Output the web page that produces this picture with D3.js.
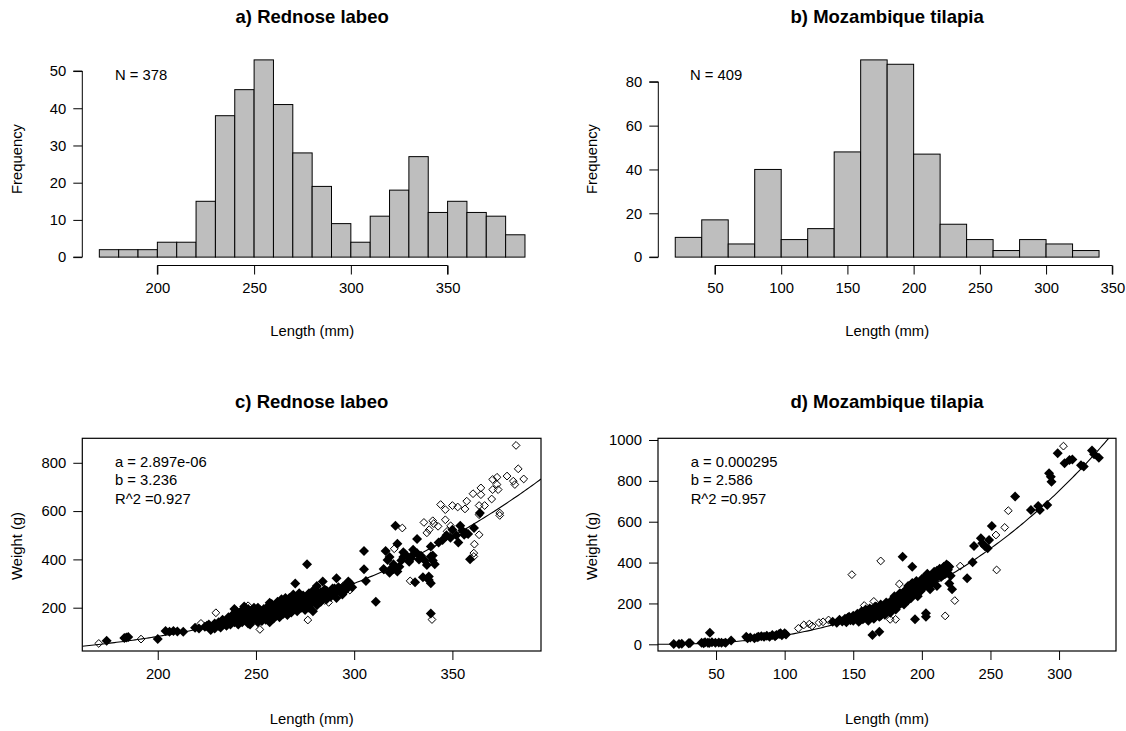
<!DOCTYPE html>
<html><head><meta charset="utf-8">
<script src="https://cdn.jsdelivr.net/npm/d3@7"></script>
<style>
html,body{margin:0;padding:0;background:#fff;}
svg{display:block;font-family:"Liberation Sans",Arial,sans-serif;}
</style></head><body>
<svg id="chart" width="1126" height="731"></svg>
<script>
// ---------- DATA ----------
const titles = ["a) Rednose labeo", "b) Mozambique tilapia", "c) Rednose labeo", "d) Mozambique tilapia"];
const labeoBinEdges = [170,180,190,200,210,220,230,240,250,260,270,280,290,300,310,320,330,340,350,360,370,380,390];
const labeoCounts = [2,2,2,4,4,15,38,45,53,41,28,19,9,4,11,18,27,12,15,12,11,6];
const tilapiaBinEdges = [20,40,60,80,100,120,140,160,180,200,220,240,260,280,300,320,340];
const tilapiaCounts = [9,17,6,40,8,13,48,90,88,47,15,8,3,8,6,3];
const sampleSizes = [378, 409];
const labeoHistXTicks = [200,250,300,350];
const labeoHistYTicks = [0,10,20,30,40,50];
const tilapiaHistXTicks = [50,100,150,200,250,300,350];
const tilapiaHistYTicks = [0,20,40,60,80];
const labeoXTicks = [200,250,300,350];
const labeoYTicks = [200,400,600,800];
const tilapiaXTicks = [50,100,150,200,250,300];
const tilapiaYTicks = [0,200,400,600,800,1000];
const fitA = [2.897e-06, 0.000295];
const fitB = [3.236, 2.586];
const fitR2 = [0.927, 0.957];
const fitLabels = [["a = 2.897e-06","b = 3.236","R^2 =0.927"],["a = 0.000295","b = 2.586","R^2 =0.957"]];

// length (mm), weight (g) — filled diamonds
const labeoFilled = [
[174,63],[184,77],[185,79],[183,75],[200,70],[204,103],[206,100],[208,104],[210,101],[213,100],[219,117],[221,114],[224,121],[225,125],[227,108],[229,114],[226,130],[228,122],
[230,128],[231,140],[232,118],[233,150],[234,135],[235,125],[236,160],[236,142],[237,130],[238,170],[238,152],[239,140],[240,185],[240,160],[240,145],[241,130],[242,175],[242,155],[243,190],[243,140],[244,165],[245,150],[245,180],[246,135],[246,195],[247,160],[247,175],[248,145],[248,190],[249,170],[249,155],[250,180],[250,165],[251,140],[251,200],[252,175],[252,158],[253,185],[253,145],[254,195],[254,168],[255,150],[255,178],[256,205],[256,162],[257,185],[257,140],[258,170],[258,215],[259,190],[259,155],[260,200],[260,175],[261,225],[261,185],[262,160],[262,210],[263,195],[263,235],[264,175],[264,215],[265,190],[265,225],[266,205],[266,170],[267,240],[267,195],[268,215],[268,180],[269,230],[269,255],[270,200],[270,220],[270,300],[271,245],[271,185],[272,215],[272,260],[273,230],[273,200],[274,250],[274,215],[275,190],[275,235],[276,380],[276,225],[277,200],[277,260],[278,245],[278,215],[279,185],[279,270],[280,230],[280,255],[281,210],[281,290],[282,245],[283,225],[283,265],[284,308],[285,250],[285,275],[286,235],[287,260],[288,245],[289,280],[290,260],[291,322],[291,240],[292,285],[293,270],[294,255],[295,290],[296,275],[297,308],[298,300],[299,285],
[233,128],[235,145],[237,155],[239,165],[241,150],[243,158],[244,185],[246,170],[248,160],[250,150],[252,190],[254,180],[256,175],[258,190],[260,165],[262,185],[264,200],[266,220],[268,200],[270,240],[272,230],[274,230],[276,245],[278,230],[280,270],[282,260],[284,240],[286,270],[288,265],[290,280],[239,195],[244,205],[249,200],[257,220],[265,240],[247,130],[253,160],[261,205],[229,135],[231,125],
[305,435],[305,359],[306,311],[311,225],[315,360],[316,435],[317,398],[318,410],[318,345],[319,363],[320,380],[320,360],[321,539],[322,465],[322,350],[323,370],[324,395],[325,410],[325,430],[326,420],[327,412],[328,390],[329,405],[330,420],[330,440],[331,305],[332,484],[332,425],[333,400],[334,415],[335,326],[336,395],[337,377],[338,315],[338,329],[339,301],[339,176],[339,453],[339,412],[340,416],[340,395],[341,380],[343,470],[345,480],[347,500],[349,490],[350,523],[352,500],[353,470],[354,539],[355,520],[356,502],[357,509],[358,505],[359,401],[361,530],[364,592]
];
// open diamonds
const labeoOpen = [
[170,52],[191.5,70],[229.6,179],[222,135],[246,208],[252,110],[262,195],[276.4,149],[285,230],[287,222],[294.5,291],[297.8,273],[293,280],[315.1,356],[320.4,444],[324.5,530],[328.5,311],[335.5,553],[338.2,523],[339.6,151],[340.5,548],[342.7,537],[344,627],[346.4,564],[346.4,606],[347.3,516],[346.9,495],[349.1,539],[350,623],[352.7,617],[356.4,609],[357.3,641],[360.5,672],[360.9,426],[360.9,412],[361.2,463],[363.6,502],[363.6,585],[363.6,623],[364.5,696],[364.5,668],[366.4,623],[370,650],[370.5,689],[370.5,731],[372.7,740],[372.7,710],[373.3,689],[374.1,592],[374.1,582],[377.8,745],[381,724],[381.8,710],[382.4,872],[383.5,775],[386.3,733],[340,560],[337,510]
];
const tilapiaFilled = [
[19.2,2],[23,2],[25,3],[30,5],[31,6],[39.5,8],[41,5],[42,10],[44,8],[45,6],[45.5,57],[47,10],[49.5,8],[52,9],[54,7],[57,8],[61,18],[72,37],[73,29],[75,33],[78,29],[80,35],[81,37],[83,40],[85,37],[87,42],[89,37],[91,45],[93,40],[94,46],[96,50],[97,54],[98,44],[100,54],[101,48],
[135,110],[138,105],[140,120],[142,112],[144,125],[145,108],[146,130],[148,118],[150,140],[150,115],[152,128],[153,150],[154,110],[155,135],[156,160],[157,122],[158,145],[159,170],[160,130],[160,155],[161,115],[162,175],[163,140],[164,46],[164,160],[165,125],[166,185],[167,150],[168,170],[169,62],[169,135],[170,195],[171,160],[172,180],[173,145],[174,205],[175,170],[176,190],[177,155],[178,215],[179,180],[180,200],[180,235],[181,170],[182,220],[183,190],[184,250],[185,210],[186,429],[186,230],[187,195],[188,265],[189,240],[190,215],[190,285],[191,255],[192,225],[193,380],[193,300],[194,245],[195,122],[195,270],[196,310],[197,235],[198,290],[199,260],[200,320],[200,300],[201,275],[202,330],[203,152],[203,135],[203,290],[204,345],[205,310],[206,270],[207,335],[208,300],[209,355],[210,320],[211,285],[212,345],[213,370],[214,330],[215,360],[216,380],[217,345],[218,390],[219,365],[220,298],[220,380],[221,335],[222,270],
[147,135],[151,125],[155,118],[158,130],[161,140],[163,170],[165,150],[167,175],[169,160],[171,185],[173,165],[175,200],[177,180],[179,205],[181,195],[183,215],[185,235],[187,220],[189,260],[191,240],[193,270],[195,250],[197,280],[199,300],[201,310],[203,325],[205,290],[207,320],[209,340],[211,360],[213,350],[215,340],[217,370],[219,385],[166,135],[170,140],[174,160],[178,195],[182,205],[186,250],[188,215],[192,290],[196,260],[200,280],
[233,323],[237,401],[238,481],[243,519],[244,494],[246,480],[248,470],[249,510],[251,579],[268,723],[279.5,657],[284.8,677],[286,657],[291.4,682],[292.7,837],[294,820],[294.5,796],[299,935],[304,886],[307.6,902],[309.7,905],[316,877],[318,870],[324,948],[325.5,930],[329,913]
];
const tilapiaOpen = [
[56,8],[110,78],[114,95],[118,99],[120,90],[125,106],[128,110],[132,119],[149,341],[158,190],[165,210],[170,408],[172,150],[176.9,122],[180.9,122],[183.6,295],[185,200],[195,280],[217,139],[224,214],[228,383],[254,535],[254.5,364],[260.4,572],[263,654],[303.2,970]
];

// ---------- DRAWING ----------
const svg = d3.select("#chart");
const FS = 14.8;
const fmt = d3.format("d");

function histogram(cfg){
  const g = svg.append("g");
  const x = d3.scaleLinear().domain(cfg.xdom).range([cfg.left, cfg.right]);
  const y = d3.scaleLinear().domain(cfg.ydom).range([cfg.bottom, cfg.top]);
  const bins = cfg.counts.map((c,i)=>({x0:cfg.edges[i], x1:cfg.edges[i+1], c}));
  g.selectAll("rect.bar").data(bins).enter().append("rect")
    .attr("x", d=>x(d.x0)).attr("width", d=>x(d.x1)-x(d.x0))
    .attr("y", d=>y(d.c)).attr("height", d=>y(0)-y(d.c))
    .attr("fill","#bebebe").attr("stroke","#000").attr("stroke-width",1);
  const xa = d3.axisBottom(x).tickValues(cfg.xticks).tickFormat(fmt).tickSize(9).tickPadding(3).tickSizeOuter(0);
  const gx = g.append("g").attr("transform",`translate(0,${cfg.bottom+0.5})`).call(xa);
  gx.select(".domain").attr("d",`M${x(cfg.xticks[0])},9V0H${x(cfg.xticks[cfg.xticks.length-1])}V9`).attr("stroke","#000");
  const ya = d3.axisLeft(y).tickValues(cfg.yticks).tickFormat(fmt).tickSize(9).tickPadding(7).tickSizeOuter(0);
  const gy = g.append("g").attr("transform",`translate(${cfg.left},0)`).call(ya);
  gy.select(".domain").attr("d",`M-9,${y(cfg.yticks[0])}H0V${y(cfg.yticks[cfg.yticks.length-1])}H-9`).attr("stroke","#000");
  [gx,gy].forEach(a=>{a.selectAll("text").attr("font-size",FS).attr("font-family","Liberation Sans, Arial").attr("fill","#000");a.selectAll("line").attr("stroke","#000");});
  gx.selectAll("text").attr("dy","1.05em");
  g.append("text").attr("x",(cfg.left+cfg.right)/2).attr("y",23).attr("text-anchor","middle")
    .attr("font-weight","bold").attr("font-size",18.5).text(cfg.title);
  g.append("text").attr("x",cfg.nx).attr("y",80).attr("font-size",FS).text("N = "+cfg.n);
  g.append("text").attr("transform",`translate(${cfg.ylabX},159) rotate(-90)`).attr("text-anchor","middle")
    .attr("font-size",FS).text("Frequency");
  g.append("text").attr("x",(cfg.left+cfg.right)/2).attr("y",336).attr("text-anchor","middle")
    .attr("font-size",FS).text("Length (mm)");
}

function diamond(r){ return `M0,${-r}L${r},0L0,${r}L${-r},0Z`; }

function scatter(cfg){
  const g = svg.append("g");
  const x = d3.scaleLinear().domain(cfg.xdom).range([cfg.left, cfg.right]);
  const y = d3.scaleLinear().domain(cfg.ydom).range([cfg.bottom, cfg.top]);
  const clipId = "clip"+cfg.id;
  g.append("clipPath").attr("id",clipId).append("rect")
    .attr("x",cfg.left).attr("y",cfg.top).attr("width",cfg.right-cfg.left).attr("height",cfg.bottom-cfg.top);
  const pts = g.append("g").attr("clip-path",`url(#${clipId})`);
  pts.selectAll("path.f").data(cfg.filled).enter().append("path")
    .attr("transform",d=>`translate(${x(d[0])},${y(d[1])})`).attr("d",diamond(5)).attr("fill","#000");
  pts.selectAll("path.o").data(cfg.open).enter().append("path")
    .attr("transform",d=>`translate(${x(d[0])},${y(d[1])})`).attr("d",diamond(3.9))
    .attr("fill","none").attr("stroke","#000").attr("stroke-width",1);
  const xs = d3.range(0,201).map(i=>cfg.xdom[0]+(cfg.xdom[1]-cfg.xdom[0])*i/200);
  pts.append("path").datum(xs).attr("fill","none").attr("stroke","#000").attr("stroke-width",1.1)
    .attr("d", d3.line().x(d=>x(d)).y(d=>y(cfg.a*Math.pow(d,cfg.b))));
  g.append("rect").attr("x",cfg.left).attr("y",cfg.top).attr("width",cfg.right-cfg.left).attr("height",cfg.bottom-cfg.top)
    .attr("fill","none").attr("stroke","#000").attr("stroke-width",1.2);
  const xa = d3.axisBottom(x).tickValues(cfg.xticks).tickFormat(fmt).tickSize(9).tickPadding(3).tickSizeOuter(0);
  const gx = g.append("g").attr("transform",`translate(0,${cfg.bottom})`).call(xa);
  gx.select(".domain").remove();
  const ya = d3.axisLeft(y).tickValues(cfg.yticks).tickFormat(fmt).tickSize(9).tickPadding(7).tickSizeOuter(0);
  const gy = g.append("g").attr("transform",`translate(${cfg.left},0)`).call(ya);
  gy.select(".domain").remove();
  [gx,gy].forEach(a=>{a.selectAll("text").attr("font-size",FS).attr("font-family","Liberation Sans, Arial").attr("fill","#000");a.selectAll("line").attr("stroke","#000");});
  gx.selectAll("text").attr("dy","1.05em");
  g.append("text").attr("x",(cfg.left+cfg.right)/2).attr("y",408).attr("text-anchor","middle")
    .attr("font-weight","bold").attr("font-size",18.5).text(cfg.title);
  cfg.labels.forEach((t,i)=>g.append("text").attr("x",cfg.tx).attr("y",467+i*18.4).attr("font-size",FS).text(t));
  g.append("text").attr("transform",`translate(${cfg.ylabX},546) rotate(-90)`).attr("text-anchor","middle")
    .attr("font-size",FS).text("Weight (g)");
  g.append("text").attr("x",(cfg.left+cfg.right)/2).attr("y",724).attr("text-anchor","middle")
    .attr("font-size",FS).text("Length (mm)");
}

histogram({title:titles[0], edges:labeoBinEdges, counts:labeoCounts, xdom:[161.2,398.8], ydom:[-2.12,55.12],
  left:82.3, right:542, top:52, bottom:265, xticks:labeoHistXTicks, yticks:labeoHistYTicks, n:sampleSizes[0], nx:115, ylabX:22});
histogram({title:titles[1], edges:tilapiaBinEdges, counts:tilapiaCounts, xdom:[7.2,352.8], ydom:[-3.6,93.6],
  left:658.3, right:1116, top:52, bottom:265, xticks:tilapiaHistXTicks, yticks:tilapiaHistYTicks, n:sampleSizes[1], nx:690, ylabX:597});
scatter({id:"c", title:titles[2], filled:labeoFilled, open:labeoOpen, xdom:[161.6,395.1], ydom:[20.7,901.4],
  left:82.3, right:541, top:438.3, bottom:651, xticks:labeoXTicks, yticks:labeoYTicks, a:fitA[0], b:fitB[0],
  labels:fitLabels[0], tx:115, ylabX:22});
scatter({id:"d", title:titles[3], filled:tilapiaFilled, open:tilapiaOpen, xdom:[7.7,341.5], ydom:[-32.8,1008.3],
  left:658, right:1116, top:438.3, bottom:651, xticks:tilapiaXTicks, yticks:tilapiaYTicks, a:fitA[1], b:fitB[1],
  labels:fitLabels[1], tx:690.7, ylabX:597});
</script>
</body></html>
